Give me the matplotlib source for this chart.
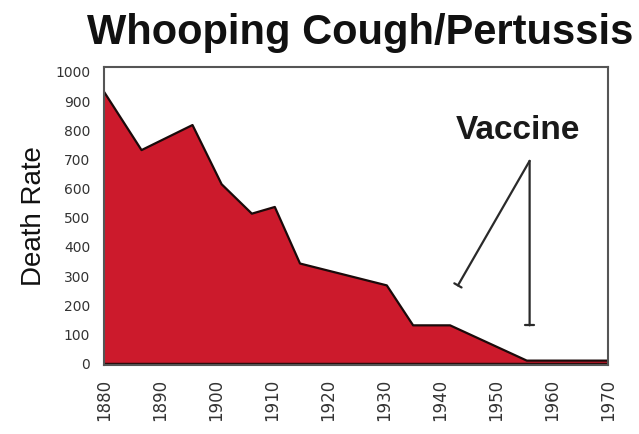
import matplotlib.pyplot as plt

years = [1880, 1886.7, 1895.8, 1901, 1906.4, 1910.5, 1915, 1930.5, 1935.2, 1941.8, 1955.5, 1970]
death_rate = [932, 732, 818, 615, 514, 537, 343, 268, 131, 131, 10, 10]
xticks = [1880, 1890, 1900, 1910, 1920, 1930, 1940, 1950, 1960, 1970]
yticks = [0, 100, 200, 300, 400, 500, 600, 700, 800, 900, 1000]

# vaccine arrows (tail -> head), data coords
arrow_tail = (1956, 695)
arrow_heads = [(1943.2, 268), (1956, 131)]

fig = plt.figure(figsize=(6.39, 4.34), dpi=100)
ax = fig.add_axes([0.1628, 0.159, 0.7887, 0.6866])

ax.fill_between(years, 0, death_rate, facecolor='#cc1a2c', edgecolor='none')
ax.plot(years, death_rate, color='#1a0a0a', lw=1.6)
ax.plot([1880, 1970], [0, 0], color='#2a0a0a', lw=2.5)

ax.set_xlim(1880, 1970)
ax.set_ylim(-5, 1017)
ax.set_xticks(xticks)
ax.set_yticks(yticks)
ax.tick_params(length=0, colors='#333333')
ax.tick_params(axis='x', labelrotation=90, labelsize=12, pad=10)
ax.tick_params(axis='y', labelsize=10, pad=10)
for s in ax.spines.values():
    s.set_color('#555555')
    s.set_linewidth(1.5)

ax.set_ylabel('Death Rate', family=['Liberation Sans', 'DejaVu Sans'],
              fontsize=20, labelpad=6, color='#111111')

fig.text(360 / 639, 1 - 44 / 434, 'Whooping Cough/Pertussis',
         family=['Liberation Sans', 'DejaVu Sans'], weight='bold',
         fontsize=30, ha='center', va='baseline', color='#111111')

ax.text(1954, 800, 'Vaccine', family=['Liberation Sans', 'DejaVu Sans'],
        weight='bold', fontsize=24, ha='center', va='center', color='#1a1a1a')
for head in arrow_heads:
    ax.annotate('', xy=head, xytext=arrow_tail,
                arrowprops=dict(arrowstyle='-[, widthB=0.3, lengthB=0',
                                color='#2a2a2a', lw=1.6, shrinkA=0, shrinkB=0))

fig.savefig('out.png', dpi=100)
